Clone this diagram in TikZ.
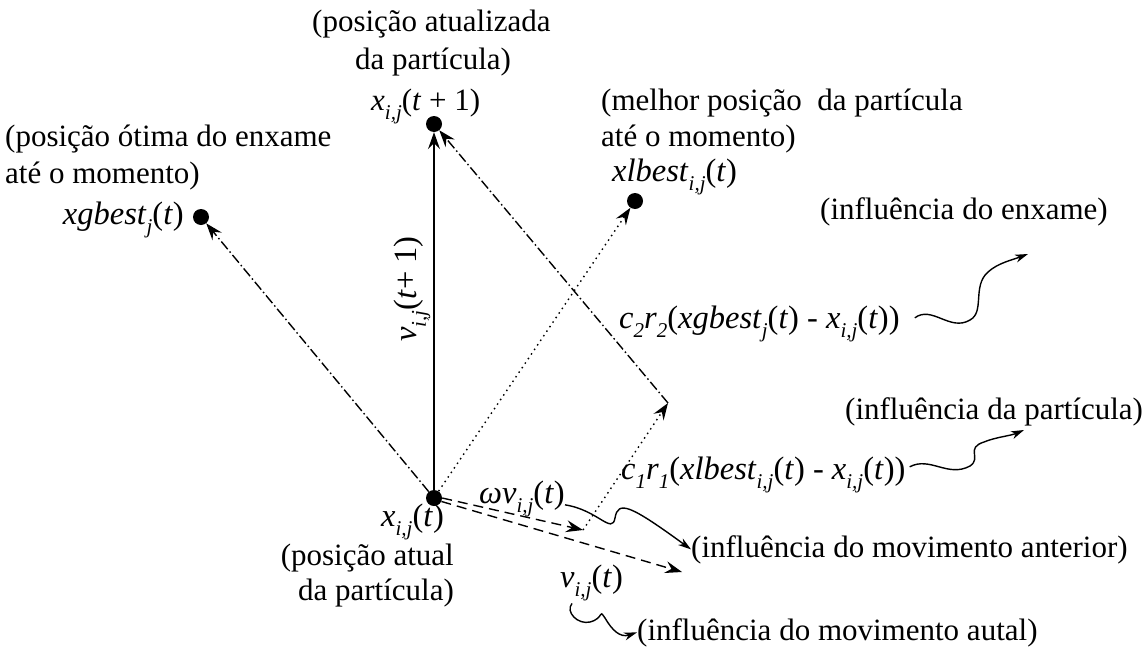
\documentclass[tikz,border=0pt]{standalone}
\usepackage{fontspec}
\setmainfont{Liberation Serif}
\usetikzlibrary{arrows.meta,calc}
\newcommand{\sbi}[1]{\raisebox{-0.3em}{\fontsize{21}{21}\selectfont\itshape #1}}
\begin{document}
\begin{tikzpicture}[x=1pt,y=-1pt,
  dotn/.style={circle,fill,inner sep=0pt,minimum size=16pt},
  lbl/.style={inner sep=0pt,font=\fontsize{31}{36}\selectfont},
  mth/.style={inner sep=0pt,font=\fontsize{32.5}{36}\selectfont},
  base/.style={line width=1.4pt},
  arr/.style={base,-{Stealth[length=17pt,width=12pt,inset=6pt]}},
  dashv/.style={arr,dash pattern=on 10pt off 6pt},
  dashdot/.style={arr,dash pattern=on 10pt off 3pt on 1.5pt off 3pt},
  dotl/.style={arr,dash pattern=on 1.5pt off 4pt},
  wave/.style={base,-{Stealth[length=13pt,width=8pt,inset=4pt]}}]
\useasboundingbox[fill=white] (0,0) rectangle (1143,648);
% points
\node[dotn] (O) at (434,498) {};
\node[dotn] (T) at (434,124) {};
\node[dotn] (G) at (201,217) {};
\node[dotn] (L) at (635,201) {};
\coordinate (P) at (583,530);
\coordinate (Q) at (668,403);
\coordinate (V) at (682,572);
% labels
\node[lbl,anchor=base west] (t1) at (312,31) {(posição atualizada};
\node[lbl,anchor=base west] (t2) at (355,69) {da partícula)};
\node[lbl,anchor=base west] (t3) at (371,110) {\textit{x}\sbi{i,j}(\textit{t} + 1)};
\node[lbl,anchor=base west] (g1) at (5,146) {(posição ótima do enxame};
\node[lbl,anchor=base west] (g2) at (5,183) {até o momento)};
\node[mth,anchor=base east] (g3) at (184,224) {\textit{xgbest}\sbi{j}(\textit{t})};
\node[lbl,anchor=base west] (l1) at (601,110) {(melhor posição\ \ da partícula};
\node[lbl,anchor=base west] (l2) at (601,146) {até o momento)};
\node[mth,anchor=base west] (l3) at (612,181) {\textit{xlbest}\sbi{i,j}(\textit{t})};
\node[lbl,anchor=base west] (e1) at (820,219) {(influência do enxame)};
\node[mth,anchor=base west] (c2) at (619,328) {\textit{c}\sbi{2}\textit{r}\sbi{2}(\textit{xgbest}\sbi{j}(\textit{t}) - \textit{x}\sbi{i,j}(\textit{t}))};
\node[lbl,anchor=base west] (p1) at (845,419) {(influência da partícula)};
\node[mth,anchor=base west] (c1) at (621,479) {\textit{c}\sbi{1}\textit{r}\sbi{1}(\textit{xlbest}\sbi{i,j}(\textit{t}) - \textit{x}\sbi{i,j}(\textit{t}))};
\node[lbl,anchor=base west] (a1) at (691,557) {(influência do movimento anterior)};
\node[mth,anchor=base west] (w) at (479,503) {\textit{ωv}\sbi{i,j}(\textit{t})};
\node[mth,anchor=base west] (xt) at (381,526) {\textit{x}\sbi{i,j}(\textit{t})};
\node[lbl,anchor=base east] (pa1) at (454,565) {(posição atual};
\node[lbl,anchor=base east] (pa2) at (454,600) {da partícula)};
\node[mth,anchor=base west] (vt) at (560,587) {\textit{v}\sbi{i,j}(\textit{t})};
\node[lbl,anchor=base west] (m1) at (637,640) {(influência do movimento autal)};
\node[mth,rotate=90] (vv) at (412,289) {\textit{v}\sbi{i,j}(\textit{t}+ 1)};
% vectors
\draw[arr] (O) -- (T);
\draw[dashdot] (O) -- (G);
\draw[dotl] (O) -- (L);
\draw[dashv] (O.east) -- (P);
\draw[dashv] (O.-25) -- (V);
\draw[dotl] (P) -- (Q);
\draw[dashdot] (Q) -- (T);
% wavy pointers
\draw[wave] (w.east) ++(0,6) coordinate (w0) (w0) .. controls (598,510) and (612,535) .. (615,518)
  .. controls (618,500) and (630,505) .. (a1.west);
\draw[wave] (c2.east) ++(15,-6) coordinate (c20) (c20) .. controls (932,305) and (950,332) .. (970,320)
  .. controls (985,312) and (972,286) .. (988,272) .. controls (998,263) and (1012,260) .. (1028,254);
\draw[wave] (c1.east) ++(4,-8) coordinate (c10) (c10) .. controls (930,456) and (948,478) .. (970,466)
  .. controls (982,458) and (965,448) .. (984,442) .. controls (996,437) and (1010,436) .. (1024,430);
\draw[wave] (vt.south west) ++(12,2) coordinate (v0) (v0) .. controls (565,612) and (578,625) .. (590,622)
  .. controls (605,618) and (598,608) .. (605,618) .. controls (612,630) and (620,638) .. (m1.west);
\end{tikzpicture}
\end{document}
